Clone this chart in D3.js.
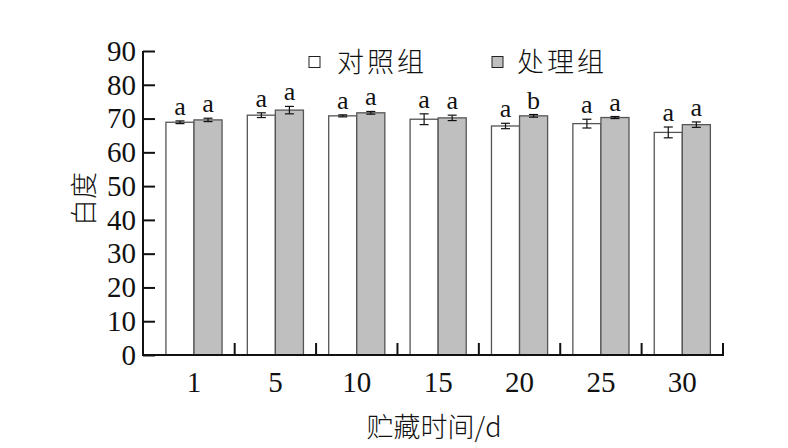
<!DOCTYPE html>
<html>
<head>
<meta charset="utf-8">
<script src="https://cdn.jsdelivr.net/npm/d3@7"></script>
<style>
  html, body { margin: 0; padding: 0; background: #fff; }
  svg { display: block; }
</style>
</head>
<body>
<svg id="chart" width="788" height="448"></svg>
<script>
// ---- data ----
const categories = ["1", "5", "10", "15", "20", "25", "30"];
const seriesNames = ["对照组", "处理组"];
const controlValues = [68.9, 71.0, 70.8, 69.8, 67.8, 68.5, 65.9];
const controlErrors = [0.4, 0.7, 0.3, 1.6, 0.8, 1.3, 1.6];
const controlLetters = ["a", "a", "a", "a", "a", "a", "a"];
const treatValues = [69.6, 72.5, 71.7, 70.2, 70.8, 70.3, 68.2];
const treatErrors = [0.5, 1.1, 0.4, 0.8, 0.4, 0.3, 0.8];
const treatLetters = ["a", "a", "a", "a", "b", "a", "a"];
const yTicks = [0, 10, 20, 30, 40, 50, 60, 70, 80, 90];
const yLabel = "白度";
const xLabel = "贮藏时间/d";

const fills = ["#ffffff", "#bfbfbf"];
const serif = "'Liberation Serif', 'DejaVu Serif', serif";
const cjk = "'Noto Sans CJK SC', sans-serif";

const svg = d3.select("#chart");
const axisLeftX = 143, axisRightX = 723, baseY = 355, topY = 51;

const x = d3.scaleBand().domain(categories).range([153.3, axisRightX]).paddingInner(0).paddingOuter(0);
const xi = d3.scaleBand().domain(seriesNames).range([0, x.bandwidth()]).paddingInner(0).paddingOuter(0.45);
const y = d3.scaleLinear().domain([0, 90]).range([baseY, topY]);

const rows = [];
categories.forEach((c, i) => {
  rows.push({ cat: c, s: seriesNames[0], v: controlValues[i], e: controlErrors[i], l: controlLetters[i], k: 0 });
  rows.push({ cat: c, s: seriesNames[1], v: treatValues[i], e: treatErrors[i], l: treatLetters[i], k: 1 });
});

// bars
svg.append("g").selectAll("rect").data(rows).join("rect")
  .attr("x", d => x(d.cat) + xi(d.s))
  .attr("y", d => y(d.v))
  .attr("width", xi.bandwidth())
  .attr("height", d => baseY - y(d.v))
  .attr("fill", d => fills[d.k])
  .attr("stroke", "#555")
  .attr("stroke-width", 1.3);

// error bars
const eg = svg.append("g").attr("stroke", "#111").attr("stroke-width", 1.2);
rows.forEach(d => {
  const cx = x(d.cat) + xi(d.s) + xi.bandwidth() / 2;
  const y1 = y(d.v + d.e), y2 = y(d.v - d.e);
  eg.append("line").attr("x1", cx).attr("x2", cx).attr("y1", y1).attr("y2", y2);
  eg.append("line").attr("x1", cx - 4.5).attr("x2", cx + 4.5).attr("y1", y1).attr("y2", y1);
  eg.append("line").attr("x1", cx - 4.5).attr("x2", cx + 4.5).attr("y1", y2).attr("y2", y2);
});

// letters
svg.append("g").selectAll("text").data(rows).join("text")
  .attr("x", d => x(d.cat) + xi(d.s) + xi.bandwidth() / 2)
  .attr("y", d => y(d.v + d.e) - 6)
  .attr("text-anchor", "middle")
  .attr("font-family", serif)
  .attr("font-size", 26)
  .attr("fill", "#111")
  .text(d => d.l);

// y axis
const yAxis = d3.axisLeft(y).tickValues(yTicks).tickSize(-12).tickPadding(8).tickFormat(d3.format("d"));
const yg = svg.append("g").attr("transform", `translate(${axisLeftX},0)`).call(yAxis);
yg.select(".domain").attr("stroke", "#111").attr("stroke-width", 2).attr("d", `M0,${topY}V${baseY}`);
yg.selectAll(".tick line").attr("stroke", "#111").attr("stroke-width", 2);
yg.selectAll(".tick text").attr("font-family", serif).attr("font-size", 29).attr("fill", "#111").attr("x", -7);

// x axis: baseline with inward ticks at band boundaries
const xg = svg.append("g");
xg.append("line").attr("x1", axisLeftX - 1).attr("x2", axisRightX + 1).attr("y1", baseY).attr("y2", baseY)
  .attr("stroke", "#111").attr("stroke-width", 2);
xg.selectAll("line.tk").data(categories).join("line").attr("class", "tk")
  .attr("x1", d => x(d) + x.step()).attr("x2", d => x(d) + x.step())
  .attr("y1", baseY).attr("y2", baseY - 12)
  .attr("stroke", "#111").attr("stroke-width", 2);
xg.selectAll("text").data(categories).join("text")
  .attr("x", d => x(d) + x.bandwidth() / 2)
  .attr("y", 392)
  .attr("text-anchor", "middle")
  .attr("font-family", serif)
  .attr("font-size", 29)
  .attr("fill", "#111")
  .text(d => d);

// axis titles
svg.append("text")
  .attr("transform", "translate(82,199) rotate(-90)")
  .attr("text-anchor", "middle")
  .attr("dominant-baseline", "central")
  .attr("font-family", cjk)
  .attr("font-weight", 300)
  .attr("font-size", 27)
  .attr("fill", "#111")
  .text(yLabel);

svg.append("text")
  .attr("x", 434)
  .attr("y", 437)
  .attr("text-anchor", "middle")
  .attr("font-family", cjk)
  .attr("font-weight", 300)
  .attr("font-size", 27)
  .attr("fill", "#111")
  .text(xLabel);

// legend
const legendPos = [{ sx: 309, tx: 337 }, { sx: 492, tx: 517 }];
seriesNames.forEach((name, i) => {
  svg.append("rect")
    .attr("x", legendPos[i].sx).attr("y", 56.5).attr("width", 11).attr("height", 11)
    .attr("fill", fills[i]).attr("stroke", "#222").attr("stroke-width", 1);
  svg.append("text")
    .attr("x", legendPos[i].tx).attr("y", 72)
    .attr("font-family", cjk).attr("font-weight", 300).attr("font-size", 27).attr("fill", "#111")
    .attr("letter-spacing", 3)
    .text(name);
});
</script>
</body>
</html>
